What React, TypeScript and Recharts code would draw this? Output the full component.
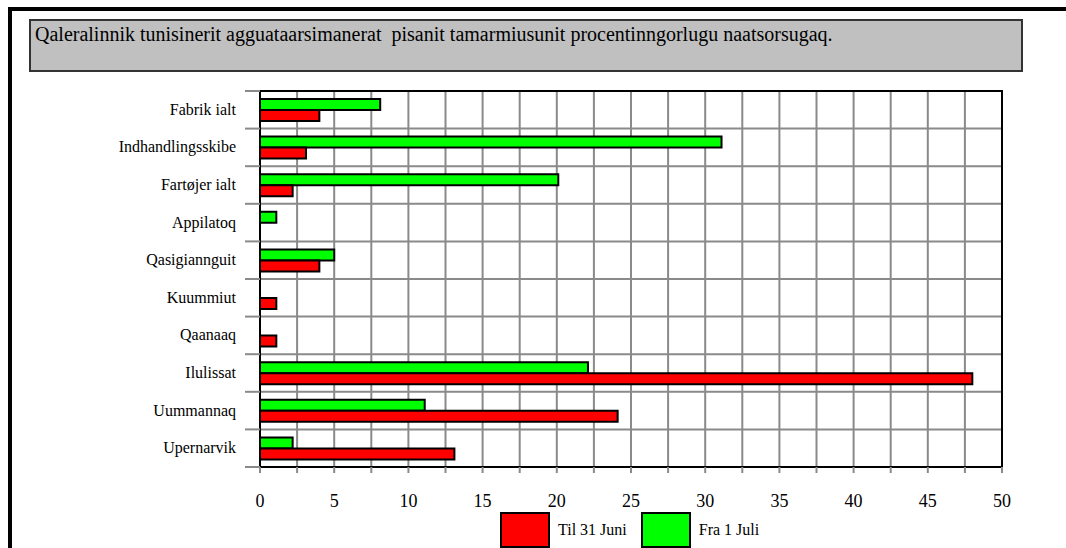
import { BarChart, Bar, XAxis, YAxis, CartesianGrid, ReferenceArea } from "recharts";

const categories = [
  "Fabrik ialt",
  "Indhandlingsskibe",
  "Fartøjer ialt",
  "Appilatoq",
  "Qasigiannguit",
  "Kuummiut",
  "Qaanaaq",
  "Ilulissat",
  "Uummannaq",
  "Upernarvik",
];
const til31Juni = [4.0, 3.1, 2.2, 0, 4.0, 1.1, 1.1, 48.0, 24.1, 13.1];
const fra1Juli = [8.1, 31.1, 20.1, 1.1, 5.0, 0, 0, 22.1, 11.1, 2.2];
const xTicks = [0, 2.5, 5, 7.5, 10, 12.5, 15, 17.5, 20, 22.5, 25, 27.5, 30, 32.5, 35, 37.5, 40, 42.5, 45, 47.5, 50];
const title = "Qaleralinnik tunisinerit agguataarsimanerat  pisanit tamarmiusunit procentinngorlugu naatsorsugaq.";

const legendItems = [
  { name: "Til 31 Juni", color: "#ff0000" },
  { name: "Fra 1 Juli", color: "#00ff00" },
];

const data = categories.map((name, i) => ({ name, til: til31Juni[i], fra: fra1Juli[i] }));

const W = 1066;
const H = 548;
const margin = { top: 91, right: 64, bottom: 0, left: 0 };
const X_AXIS_H = 81;
const Y_AXIS_W = 260;
const plotH = H - margin.top - margin.bottom - X_AXIS_H;
const band = plotH / categories.length;
const FONT = '"Liberation Serif", "Times New Roman", serif';
const GRID = "#8a8a8a";

function XTick({ x, y, payload }: any) {
  const v = payload.value;
  if (v % 5 !== 0) return null;
  return (
    <text x={x} y={y} dy={32} textAnchor="middle" fontSize={18} fontFamily={FONT} style={{ fontFamily: FONT }} fill="#000">
      {v}
    </text>
  );
}

function YTick({ x, y, payload, index }: any) {
  const edge = Y_AXIS_W;
  return (
    <g>
      <line x1={edge - 15} x2={edge} y1={y - band / 2} y2={y - band / 2} stroke={GRID} strokeWidth={2} />
      {index === categories.length - 1 && (
        <line x1={edge - 15} x2={edge} y1={y + band / 2} y2={y + band / 2} stroke={GRID} strokeWidth={2} />
      )}
      <text x={x} y={y} dy={5} textAnchor="end" fontSize={16} fontFamily={FONT} style={{ fontFamily: FONT }} fill="#000">
        {payload.value}
      </text>
    </g>
  );
}

export default function App() {
  return (
    <div style={{ position: "fixed", left: 0, top: 0, width: W, height: H, background: "#fff", overflow: "hidden" }}>
      {/* black frame */}
      <div style={{ position: "absolute", left: 8, top: 7, width: 4, height: H - 7, background: "#000" }} />
      <div style={{ position: "absolute", left: 8, top: 7, width: W - 8, height: 4, background: "#000" }} />

      {/* title box */}
      <div
        style={{
          position: "absolute",
          left: 29,
          top: 19,
          width: 994,
          height: 53,
          boxSizing: "border-box",
          background: "#c0c0c0",
          border: "2px solid #333",
          fontFamily: FONT,
          fontSize: 20,
          lineHeight: "22px",
          padding: "2px 0 0 4px",
          whiteSpace: "pre",
        }}
      >
        {title}
      </div>

      <div style={{ position: "absolute", left: 0, top: 0 }}>
        <BarChart
          width={W}
          height={H}
          data={data}
          layout="vertical"
          margin={margin}
          barSize={11}
          barGap={0}
        >
          <CartesianGrid
            stroke={GRID}
            strokeWidth={2}
            horizontalCoordinatesGenerator={({ offset }: any) =>
              Array.from({ length: categories.length + 1 }, (_, i) => offset.top + (i * offset.height) / categories.length)
            }
          />
          <XAxis
            type="number"
            domain={[0, 50]}
            ticks={xTicks}
            interval={0}
            height={X_AXIS_H}
            axisLine={{ stroke: "#000", strokeWidth: 2 }}
            tickLine={{ stroke: GRID, strokeWidth: 2 }}
            tickSize={6}
            tick={<XTick />}
          />
          <YAxis
            type="category"
            dataKey="name"
            width={Y_AXIS_W}
            axisLine={{ stroke: "#000", strokeWidth: 2 }}
            tickLine={false}
            tickSize={0}
            tickMargin={24}
            interval={0}
            tick={<YTick />}
          />
          <ReferenceArea x1={0} x2={50} fill="none" fillOpacity={0} stroke="#000" strokeWidth={2} ifOverflow="visible" />
          <Bar dataKey="fra" fill="#00ff00" stroke="#000" strokeWidth={2} isAnimationActive={false} />
          <Bar dataKey="til" fill="#ff0000" stroke="#000" strokeWidth={2} isAnimationActive={false} />
        </BarChart>
      </div>

      {/* legend */}
      <div style={{ position: "absolute", left: 500, top: 512, display: "flex", alignItems: "center", fontFamily: FONT, fontSize: 16 }}>
        {legendItems.map((it) => (
          <div key={it.name} style={{ display: "flex", alignItems: "center", marginRight: 14 }}>
            <div style={{ width: 50, height: 36, boxSizing: "border-box", background: it.color, border: "2px solid #000" }} />
            <span style={{ marginLeft: 8 }}>{it.name}</span>
          </div>
        ))}
      </div>
    </div>
  );
}
